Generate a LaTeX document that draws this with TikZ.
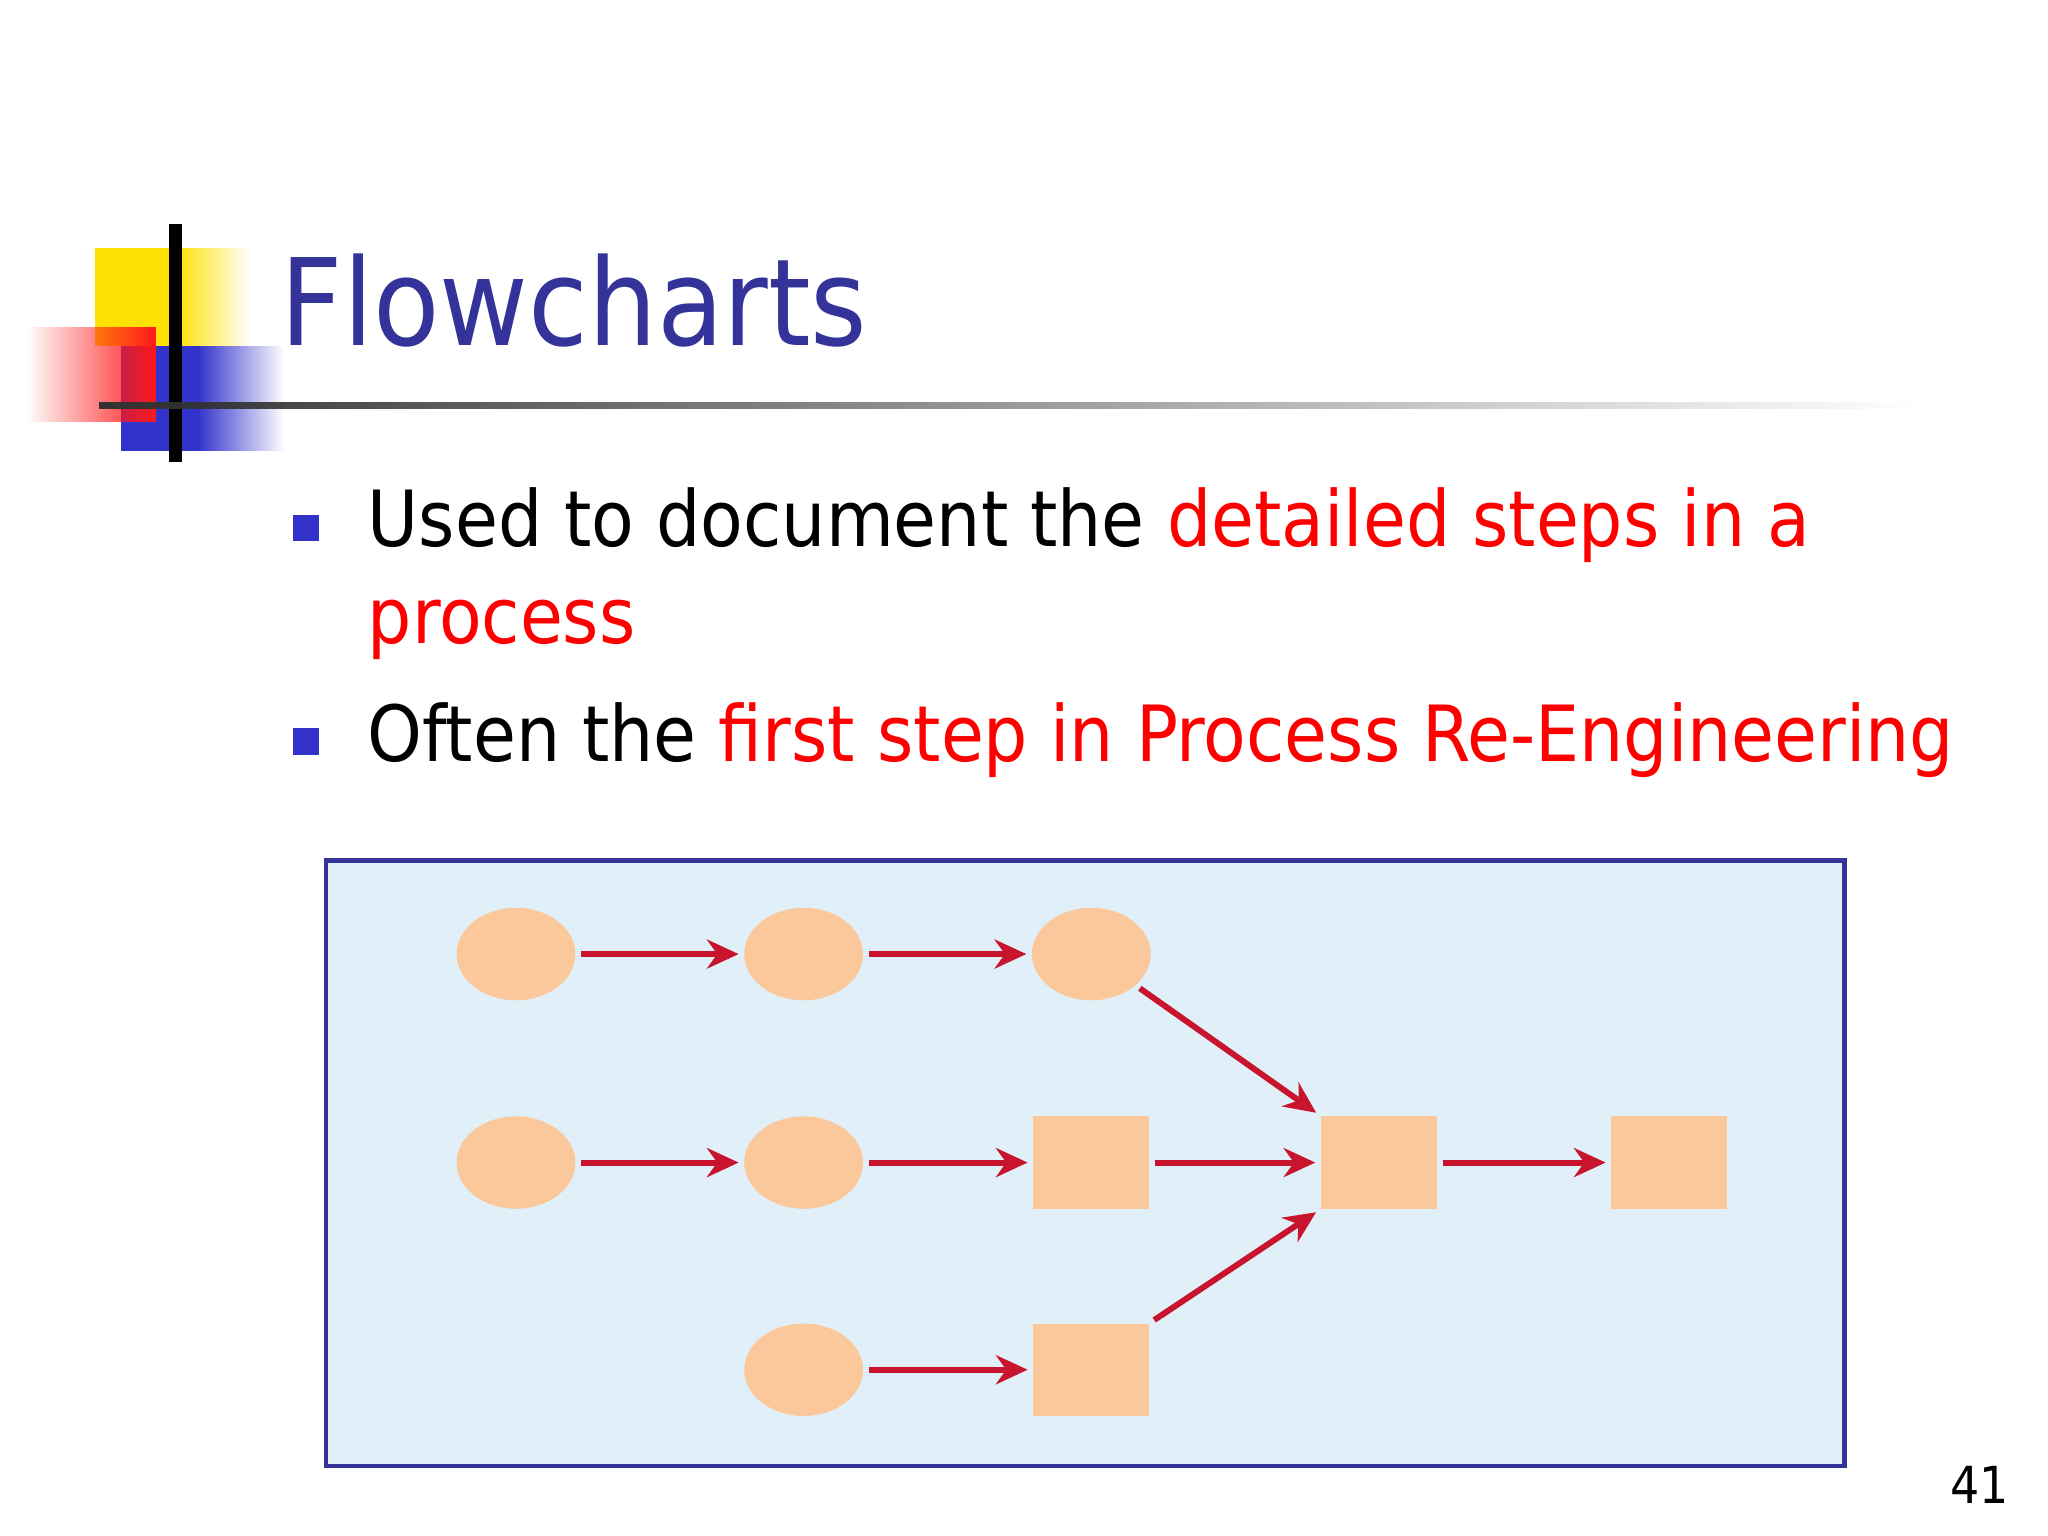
\documentclass[tikz,border=0pt]{standalone}
\usepackage{fontspec}
\setmainfont{DejaVu Sans Condensed}
\usetikzlibrary{arrows.meta,fadings,shapes.geometric}
\definecolor{navy}{RGB}{51,51,153}
\definecolor{peach}{RGB}{250,200,155}
\definecolor{boxbg}{RGB}{225,240,248}
\definecolor{arr}{RGB}{200,20,45}
\definecolor{bul}{RGB}{51,51,204}
\tikzset{
  ell/.style={ellipse,fill=peach,minimum width=0.9cm,minimum height=0.7cm,inner sep=0},
  sq/.style={rectangle,fill=peach,minimum width=0.88cm,minimum height=0.7cm,inner sep=0},
  conn/.style={arr,line width=0.045cm,-{Stealth[length=0.24cm,width=0.22cm]},shorten <=1pt,shorten >=1pt},
}
\begin{document}
\begin{tikzpicture}[x=0.01cm,y=-0.01cm]
\useasboundingbox (0,0) rectangle (1552,1164);
\fill[white] (0,0) rectangle (1552,1164);
% logo
\fill[yellow!85!orange] (72,188) rectangle (133,262);
\fill[yellow!85!orange,path fading=east] (133,188) rectangle (190,262);
\fill[bul] (92,262) rectangle (150,342);
\fill[bul,path fading=east] (150,262) rectangle (215,342);
\fill[red!90,path fading=west] (20,248) rectangle (118,320);
\draw[black,line width=3] (133,170) -- (133,350);
\fill[black!80,path fading=east] (75,305) rectangle (1450,310);
% title
\node[anchor=base west,inner sep=0,text=navy,font=\fontsize{26}{31}\selectfont] (title) at (212,262) {Flowcharts};
% bullets
\fill[bul] (222,390) rectangle (242,410);
\fill[bul] (222,552) rectangle (242,572);
\node[anchor=base west,inner sep=0,font=\fontsize{16.7}{20}\selectfont] (b1) at (278,414) {Used to document the \textcolor{red}{detailed steps in a}};
\node[anchor=base west,inner sep=0,font=\fontsize{16.7}{20}\selectfont,text=red] (b1b) at (278,488) {process};
\node[anchor=base west,inner sep=0,font=\fontsize{16.7}{20}\selectfont] (b2) at (278,577) {Often the \textcolor{red}{first step in Process Re-Engineering}};
% diagram
\draw[fill=boxbg,draw=navy,line width=1] (247,652) rectangle (1398,1111);
\node[ell] (a1) at (391,723) {};
\node[ell] (a2) at (609,723) {};
\node[ell] (a3) at (827,723) {};
\node[ell] (b1n) at (391,881) {};
\node[ell] (b2n) at (609,881) {};
\node[sq] (b3) at (827,881) {};
\node[sq] (b4) at (1045,881) {};
\node[sq] (b5) at (1265,881) {};
\node[ell] (c2) at (609,1038) {};
\node[sq] (c3) at (827,1038) {};
\draw[conn] (a1) -- (a2);
\draw[conn] (a2) -- (a3);
\draw[conn] (b1n) -- (b2n);
\draw[conn] (b2n) -- (b3);
\draw[conn] (b3) -- (b4);
\draw[conn] (b4) -- (b5);
\draw[conn] (c2) -- (c3);
\draw[conn] (a3) -- (b4.north west);
\draw[conn] (c3.north east) -- (b4.south west);
\node[font=\fontsize{11}{13}\selectfont] (pg) at (1500,1125) {41};
\end{tikzpicture}
\end{document}
